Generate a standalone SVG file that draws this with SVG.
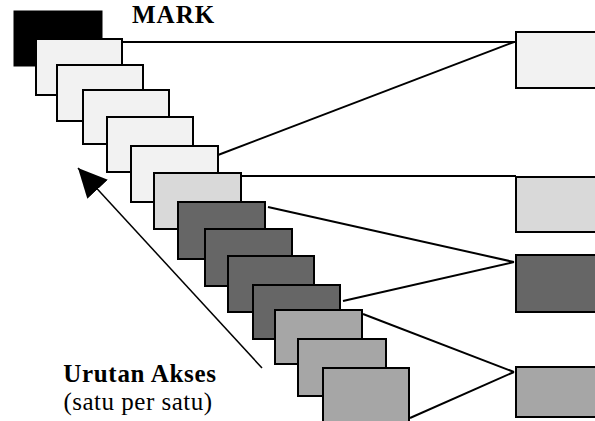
<svg xmlns="http://www.w3.org/2000/svg" width="595" height="421" viewBox="0 0 595 421">
<style>
.r{stroke:#000;stroke-width:2}
.w{fill:#f2f2f2}
.lg{fill:#d9d9d9}
.dk{fill:#666666}
.md{fill:#a6a6a6}
.c{stroke:#000;stroke-width:2;fill:none}
.t{font-family:"Liberation Serif","Times New Roman",serif;fill:#000}
</style>
<defs>
<marker id="ah" markerUnits="userSpaceOnUse" markerWidth="30" markerHeight="30" viewBox="0 -14 28 28" refX="27" refY="0" orient="auto">
<path d="M0,-13 L27,0 L0,13 z" fill="#000"/>
</marker>
</defs>
<rect width="595" height="421" fill="#fff"/>
<g id="connectors">
<line class="c" x1="122" y1="42" x2="516" y2="42"/>
<line class="c" x1="218" y1="155" x2="514" y2="42"/>
<line class="c" x1="241" y1="176" x2="516" y2="176"/>
<line class="c" x1="268" y1="207" x2="514" y2="262"/>
<line class="c" x1="343" y1="301" x2="514" y2="262"/>
<line class="c" x1="363" y1="314" x2="514" y2="372"/>
<line class="c" x1="410" y1="418" x2="514" y2="372"/>
<line stroke="#000" stroke-width="1.5" x1="262" y1="368" x2="78" y2="168" marker-end="url(#ah)"/>
</g>
<g id="mark"><rect x="14" y="11" width="88" height="55" fill="#000" stroke="#000" stroke-width="1"/></g>
<g id="f1"><rect class="r w" x="36" y="39" width="86" height="56"/></g>
<g id="f2"><rect class="r w" x="57" y="65" width="86" height="56"/></g>
<g id="f3"><rect class="r w" x="83" y="90" width="86" height="54"/></g>
<g id="f4"><rect class="r w" x="107" y="117" width="86" height="55"/></g>
<g id="f5"><rect class="r w" x="131" y="146" width="87" height="56"/></g>
<g id="f6"><rect class="r lg" x="154" y="173" width="87" height="56"/></g>
<g id="f7"><rect class="r dk" x="178" y="202" width="87" height="57"/></g>
<g id="f8"><rect class="r dk" x="205" y="229" width="87" height="57"/></g>
<g id="f9"><rect class="r dk" x="228" y="256" width="86" height="56"/></g>
<g id="f10"><rect class="r dk" x="253" y="285" width="87" height="54"/></g>
<g id="f11"><rect class="r md" x="275" y="310" width="87" height="54"/></g>
<g id="f12"><rect class="r md" x="298" y="339" width="88" height="57"/></g>
<g id="f13"><rect class="r md" x="323" y="368" width="86" height="56"/></g>
<g id="b1"><rect class="r w" x="516" y="32" width="100" height="56"/></g>
<g id="b2"><rect class="r lg" x="516" y="177" width="100" height="55"/></g>
<g id="b3"><rect class="r dk" x="516" y="255" width="100" height="57"/></g>
<g id="b4"><rect class="r md" x="516" y="367" width="100" height="50"/></g>
<g id="labels">
<text class="t" x="132" y="23" font-size="25" font-weight="bold" letter-spacing="1">MARK</text>
<text class="t" x="140" y="382" font-size="25" font-weight="bold" letter-spacing="0.7" text-anchor="middle">Urutan Akses</text>
<text class="t" x="138" y="410" font-size="25" letter-spacing="0.5" text-anchor="middle">(satu per satu)</text>
</g>
</svg>
